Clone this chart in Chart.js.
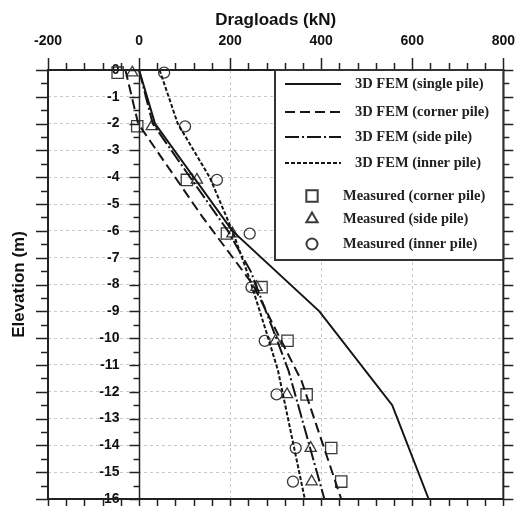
<!DOCTYPE html>
<html>
<head>
<meta charset="utf-8">
<script src="https://cdn.jsdelivr.net/npm/chart.js@4.4.0/dist/chart.umd.min.js"></script>
<style>
  html, body { margin: 0; padding: 0; background: #fff; }
  #wrap { width: 515px; height: 506px; }
</style>
</head>
<body>
<div id="wrap"><canvas id="chart" width="515" height="506"></canvas></div>
<script>
// 3D FEM curves: dragload (kN) against elevation (m)
var singleLoad = [0, 35, 205, 396, 556, 636];
var singleElev = [0, -2, -6, -9, -12.5, -16];

var cornerLoad = [-30, -2, 140, 250, 357, 444];
var cornerElev = [0, -2, -5.5, -8, -11.6, -16];

var sideLoad = [0, 30, 112, 195, 245, 290, 328, 407];
var sideElev = [0, -2, -4, -6, -7.5, -9.5, -11.2, -16];

var innerLoad = [45, 85, 155, 205, 243, 280, 305, 364];
var innerElev = [0, -2, -4, -6, -7.8, -9.8, -11.2, -16];

// field measurements
var measElev = [-0.1, -2.1, -4.1, -6.1, -8.1, -10.1, -12.1, -14.1, -15.35];
var cornerMeas = [-47, -4, 105, 193, 269, 326, 368, 422, 444];
var sideMeas = [-15, 28, 127, 205, 258, 300, 325, 377, 379];
var innerMeas = [55, 101, 171, 243, 247, 276, 302, 344, 338];

var xTicks = [-200, 0, 200, 400, 600, 800];
var yTicks = [0, -1, -2, -3, -4, -5, -6, -7, -8, -9, -10, -11, -12, -13, -14, -15, -16];

var legendLabels = [
  '3D FEM (single pile)', '3D FEM (corner pile)', '3D FEM (side pile)', '3D FEM (inner pile)',
  'Measured (corner pile)', 'Measured (side pile)', 'Measured (inner pile)'
];

function pts(xs, ys) {
  return xs.map(function (v, i) { return { x: v, y: ys[i] }; });
}

var sans = '"Liberation Sans", Arial, sans-serif';
var serif = '"Liberation Serif", "Times New Roman", serif';
var ink = '#151515';
var markInk = '#3a3a3a';
var grey = '#c9c9c9';
var none = 'rgba(0,0,0,0)';

var lineStyles = [
  { dash: [] },
  { dash: [10, 5] },
  { dash: [14, 3, 2, 3] },
  { dash: [4, 2] }
];
var markStyles = [
  { style: 'rect', r: 8 },
  { style: 'triangle', r: 6.5 },
  { style: 'circle', r: 5.5 }
];

function lineSet(label, xs, ys, k) {
  return {
    label: label, data: pts(xs, ys), showLine: true,
    borderColor: ink, borderWidth: 2, borderDash: lineStyles[k].dash,
    pointRadius: 0, pointHoverRadius: 0, tension: 0, clip: false, yAxisID: 'y'
  };
}
function markSet(label, xs, k) {
  return {
    label: label, data: pts(xs, measElev), showLine: false,
    pointStyle: markStyles[k].style, pointRadius: markStyles[k].r,
    borderColor: markInk, borderWidth: 1.3, backgroundColor: none,
    clip: false, yAxisID: 'y'
  };
}

// frame, minor ticks and the zero axis
var framePlugin = {
  id: 'framePlugin',
  afterDatasetsDraw: function (chart) {
    var ctx = chart.ctx, a = chart.chartArea, xs = chart.scales.x, ys = chart.scales.y;
    ctx.save();
    ctx.strokeStyle = '#222';
    ctx.lineWidth = 1.5;
    ctx.beginPath();
    for (var v = -200; v <= 800; v += 40) {
      var px = Math.round(xs.getPixelForValue(v)) + 0.5;
      var major = v % 200 === 0;
      ctx.moveTo(px, a.top); ctx.lineTo(px, a.top - (major ? 12 : 7));
      ctx.moveTo(px, a.bottom); ctx.lineTo(px, a.bottom + 8);
    }
    var x0 = Math.round(xs.getPixelForValue(0)) + 0.5;
    for (var k = 0; k <= 32; k++) {
      var py = Math.round(ys.getPixelForValue(-k / 2)) + 0.5;
      var maj = k % 2 === 0;
      ctx.moveTo(a.left, py); ctx.lineTo(a.left - (maj ? 12 : 7), py);
      ctx.moveTo(a.right, py); ctx.lineTo(a.right + (maj ? 10 : 6), py);
      ctx.moveTo(x0, py); ctx.lineTo(x0 - (maj ? 10 : 6), py);
    }
    ctx.stroke();
    ctx.beginPath();
    ctx.moveTo(x0, a.top); ctx.lineTo(x0, a.bottom);
    ctx.stroke();
    ctx.lineWidth = 2;
    ctx.strokeRect(a.left, a.top, a.right - a.left, a.bottom - a.top);
    ctx.restore();
  }
};

// boxed legend in the upper right corner
var legendPlugin = {
  id: 'legendPlugin',
  afterDraw: function (chart) {
    var ctx = chart.ctx, a = chart.chartArea;
    var bx = 275, by = a.top, bw = a.right - 275, bh = 190;
    ctx.save();
    ctx.fillStyle = '#fff';
    ctx.fillRect(bx, by, bw, bh);
    ctx.strokeStyle = '#333';
    ctx.lineWidth = 2;
    ctx.strokeRect(bx, by, bw, bh);
    var rows = [14, 42, 67, 93, 126, 149, 174];
    ctx.font = 'bold 14.5px ' + serif;
    ctx.textBaseline = 'middle';
    for (var i = 0; i < 4; i++) {
      ctx.strokeStyle = ink;
      ctx.lineWidth = 2;
      ctx.setLineDash(lineStyles[i].dash);
      ctx.beginPath();
      ctx.moveTo(285, by + rows[i]); ctx.lineTo(341, by + rows[i]);
      ctx.stroke();
      ctx.setLineDash([]);
      ctx.fillStyle = '#222';
      ctx.fillText(legendLabels[i], 355, by + rows[i]);
    }
    for (var j = 0; j < 3; j++) {
      ctx.strokeStyle = markInk;
      ctx.fillStyle = none;
      Chart.helpers.drawPoint(ctx, {
        pointStyle: markStyles[j].style, radius: markStyles[j].r,
        rotation: 0, borderWidth: 1.3
      }, 312, by + rows[4 + j]);
      ctx.fillStyle = '#222';
      ctx.fillText(legendLabels[4 + j], 343, by + rows[4 + j]);
    }
    ctx.restore();
  }
};

new Chart(document.getElementById('chart'), {
  type: 'scatter',
  data: {
    datasets: [
      lineSet(legendLabels[0], singleLoad, singleElev, 0),
      lineSet(legendLabels[1], cornerLoad, cornerElev, 1),
      lineSet(legendLabels[2], sideLoad, sideElev, 2),
      lineSet(legendLabels[3], innerLoad, innerElev, 3),
      markSet(legendLabels[4], cornerMeas, 0),
      markSet(legendLabels[5], sideMeas, 1),
      markSet(legendLabels[6], innerMeas, 2)
    ]
  },
  options: {
    responsive: false,
    animation: false,
    devicePixelRatio: 1,
    layout: { autoPadding: false, padding: { top: 5.8, left: 9.6, right: 11, bottom: 7 } },
    plugins: { legend: { display: false }, tooltip: { enabled: false } },
    scales: {
      x: {
        type: 'linear', position: 'top',
        min: xTicks[0], max: xTicks[xTicks.length - 1],
        afterBuildTicks: function (s) { s.ticks = xTicks.map(function (v) { return { value: v }; }); },
        ticks: { color: '#111', font: { family: sans, size: 14, weight: 'bold' }, padding: 0, maxRotation: 0 },
        grid: {
          drawTicks: true, tickLength: 20, tickColor: none,
          color: function (c) { var v = c.tick && c.tick.value; return (v === 200 || v === 400 || v === 600) ? grey : none; }
        },
        border: { display: false, dash: [3, 3] },
        title: { display: true, text: 'Dragloads (kN)', color: '#111', font: { family: sans, size: 17, weight: 'bold' }, padding: { top: 4, bottom: 3 } }
      },
      y: {
        // labels sit just left of the zero line
        type: 'linear', axis: 'y', position: { x: -43 },
        min: -16, max: 0,
        afterBuildTicks: function (s) { s.ticks = yTicks.map(function (v) { return { value: v }; }); },
        ticks: { color: '#111', font: { family: sans, size: 14, weight: 'bold', lineHeight: 1 }, padding: 0 },
        grid: {
          drawTicks: false,
          color: function (c) { var v = c.tick && c.tick.value; return (v === 0 || v === -16) ? none : grey; }
        },
        border: { display: false, dash: [3, 3] }
      },
      yl: {
        type: 'linear', axis: 'y', position: 'left',
        min: -16, max: 0,
        ticks: { display: false },
        grid: { display: false, drawTicks: false },
        border: { display: false },
        title: { display: true, text: 'Elevation (m)', color: '#111', font: { family: sans, size: 17, weight: 'bold' }, padding: { top: 0, bottom: 18 } }
      }
    }
  },
  plugins: [framePlugin, legendPlugin]
});
</script>
</body>
</html>
